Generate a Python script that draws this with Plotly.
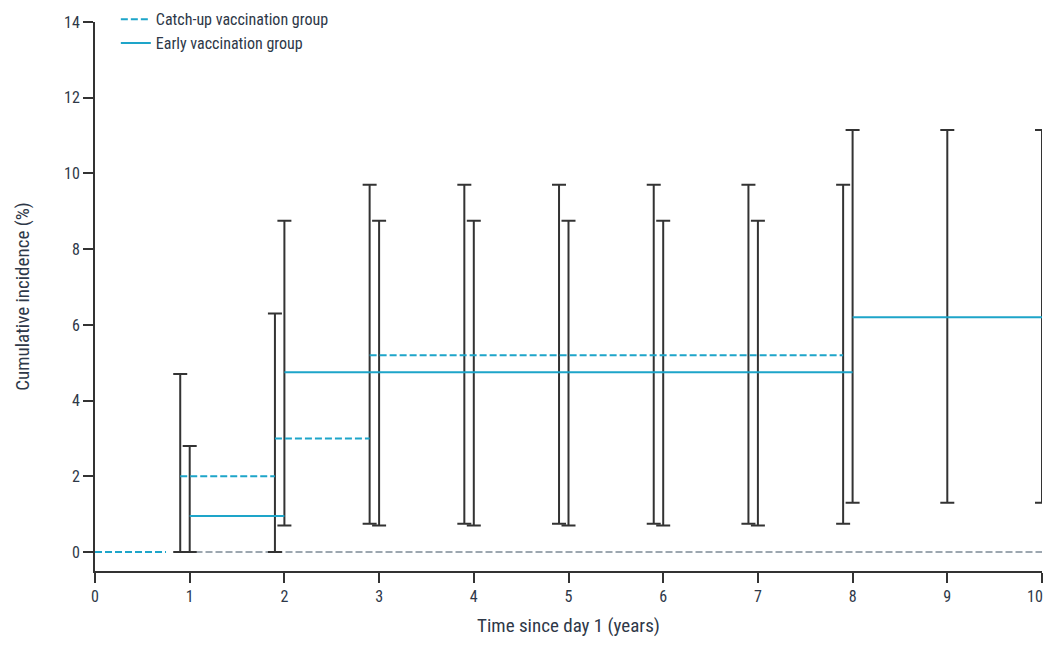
import plotly.graph_objects as go

# Step curves (start, end, value) in years / %
catch_start = [0.0, 0.9, 1.9, 2.9]
catch_end = [0.75, 1.9, 2.9, 7.9]
catch_val = [0.0, 2.0, 3.0, 5.2]

early_start = [1.0, 2.0, 8.0]
early_end = [2.0, 8.0, 10.0]
early_val = [0.95, 4.75, 6.2]

# Confidence intervals
catch_ci_x = [0.9, 1.9, 2.9, 3.9, 4.9, 5.9, 6.9, 7.9]
catch_ci_lo = [0.0, 0.0, 0.75, 0.75, 0.75, 0.75, 0.75, 0.75]
catch_ci_hi = [4.7, 6.3, 9.7, 9.7, 9.7, 9.7, 9.7, 9.7]

early_ci_x = [1, 2, 3, 4, 5, 6, 7, 8, 9, 10]
early_ci_lo = [0.0, 0.7, 0.7, 0.7, 0.7, 0.7, 0.7, 1.3, 1.3, 1.3]
early_ci_hi = [2.8, 8.75, 8.75, 8.75, 8.75, 8.75, 8.75, 11.15, 11.15, 11.15]

baseline_x = [0.85, 10.0]
baseline_y = [0.0, 0.0]

x_ticks = [0, 1, 2, 3, 4, 5, 6, 7, 8, 9, 10]
x_tick_labels = ["0", "1", "2", "3", "4", "5", "6", "7", "8", "9", "10"]
y_ticks = [0, 2, 4, 6, 8, 10, 12, 14]

CYAN = "#1ea5c9"
DARK = "#333333"
TEXT = "#2e3848"
FONT = "Liberation Sans Narrow, Roboto Condensed, Arial Narrow, Liberation Sans, sans-serif"


def segs(starts, ends, vals):
    xs, ys = [], []
    for s, e, v in zip(starts, ends, vals):
        xs += [s, e, None]
        ys += [v, v, None]
    return xs, ys


# last label is drawn right-aligned so it stays inside the visible page edge
shown_x_labels = x_tick_labels[:-1] + [""]

fig = go.Figure()

fig.add_trace(go.Scatter(x=baseline_x, y=baseline_y, mode="lines",
                         line=dict(color="#7d8a96", width=1.6, dash="7px,3px"),
                         showlegend=False, hoverinfo="skip"))

for cx, lo, hi in [(catch_ci_x, catch_ci_lo, catch_ci_hi),
                   (early_ci_x, early_ci_lo, early_ci_hi)]:
    fig.add_trace(go.Scatter(
        x=cx, y=lo, mode="markers", marker=dict(size=1, color="rgba(0,0,0,0)"),
        error_y=dict(type="data", symmetric=False,
                     array=[h - l for h, l in zip(hi, lo)],
                     arrayminus=[0] * len(lo),
                     color=DARK, thickness=2, width=7),
        cliponaxis=False,
        showlegend=False, hoverinfo="skip"))

cx_, cy_ = segs(catch_start, catch_end, catch_val)
fig.add_trace(go.Scatter(x=cx_, y=cy_, mode="lines", name="Catch-up vaccination group",
                         line=dict(color=CYAN, width=2, dash="7px,3px"), cliponaxis=False))
ex_, ey_ = segs(early_start, early_end, early_val)
fig.add_trace(go.Scatter(x=ex_, y=ey_, mode="lines", name="Early vaccination group",
                         line=dict(color=CYAN, width=2), cliponaxis=False))

fig.add_annotation(x=x_ticks[-1], xref="x", y=0, yref="paper",
                   text=x_tick_labels[-1], showarrow=False,
                   xanchor="right", yanchor="middle", xshift=2, yshift=-25,
                   borderpad=0, font=dict(family=FONT, size=16, color=TEXT))

fig.update_layout(
    width=1045, height=629,
    margin=dict(l=87, r=11, t=14, b=66, autoexpand=False),
    paper_bgcolor="white", plot_bgcolor="white",
    font=dict(family=FONT, size=16, color=TEXT),
    showlegend=True,
    legend=dict(x=0.022, y=1.036, xanchor="left", yanchor="top",
                bgcolor="rgba(0,0,0,0)", font=dict(size=16, color=TEXT),
                tracegroupgap=0, itemwidth=30),
    xaxis=dict(range=[0, 10], tickvals=x_ticks, ticktext=shown_x_labels,
               showgrid=False, zeroline=False,
               showline=True, linecolor=DARK, linewidth=2,
               ticks="outside", ticklen=10, tickwidth=2, tickcolor=DARK,
               title=dict(text="Time since day 1 (years)", standoff=39),
               automargin=False, fixedrange=True),
    yaxis=dict(range=[-0.5, 14], tickvals=y_ticks, showgrid=False, zeroline=False,
               showline=True, linecolor=DARK, linewidth=2,
               ticks="outside", ticklen=10, tickwidth=2, tickcolor=DARK,
               title=dict(text="Cumulative incidence (%)", standoff=29),
               automargin=False, fixedrange=True),
)

fig.write_html("out.html")
